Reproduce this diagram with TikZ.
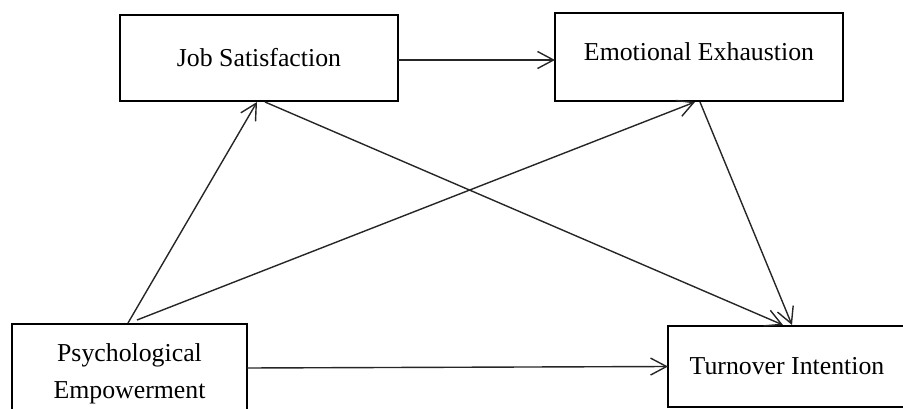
\documentclass[tikz,border=0pt]{standalone}
\usepackage{fontspec}
\setmainfont{Liberation Serif}
\usetikzlibrary{arrows.meta,calc}
\begin{document}
\begin{tikzpicture}[x=1pt,y=-1pt,
  box/.style={draw=black,line width=2.6pt,rectangle,inner sep=0pt,outer sep=0pt,anchor=center},
  lbl/.style={font=\fontsize{25.8}{37}\selectfont,align=center,inner sep=0pt},
  arr/.style={draw=black!85,line width=1.4pt,-{Straight Barb[length=16pt,width=17pt,line width=1.4pt]}}]
\useasboundingbox (0,0) rectangle (903,409);
\clip (0,0) rectangle (903,409);
\node[box,minimum width=278pt,minimum height=86pt] (js) at (259,58) {};
\node[box,minimum width=288pt,minimum height=88pt] (ee) at (699,57) {};
\node[box,minimum width=235pt,minimum height=99pt] (pe) at (129.5,373.5) {};
\node[box,minimum width=238pt,minimum height=81pt] (ti) at (787,366.5) {};
\node[lbl] (jst) at (js.center) {Job Satisfaction};
\node[lbl] (eet) at ($(ee.center)+(0,-5)$) {Emotional Exhaustion};
\node[lbl] (pet) at (pe.center) {Psychological\\Empowerment};
\node[lbl] (tit) at (ti.center) {Turnover Intention};
\draw[arr] ($(js.east)+(0,2)$) -- ($(ee.west)+(0,3)$);
\draw[arr] ($(pe.north)+(-1.5,-1)$) -- ($(js.south)+(-2,1)$);
\draw[arr] ($(js.south)+(6,1)$) -- ($(ti.north)+(-4,-1)$);
\draw[arr] ($(pe.north)+(7.5,-4)$) -- ($(ee.south)+(-4,1)$);
\draw[arr] ($(ee.south)+(1,1)$) -- ($(ti.north)+(5,-1)$);
\draw[arr] ($(pe.east)+(0,-5.5)$) -- (ti.west);
\end{tikzpicture}
\end{document}
